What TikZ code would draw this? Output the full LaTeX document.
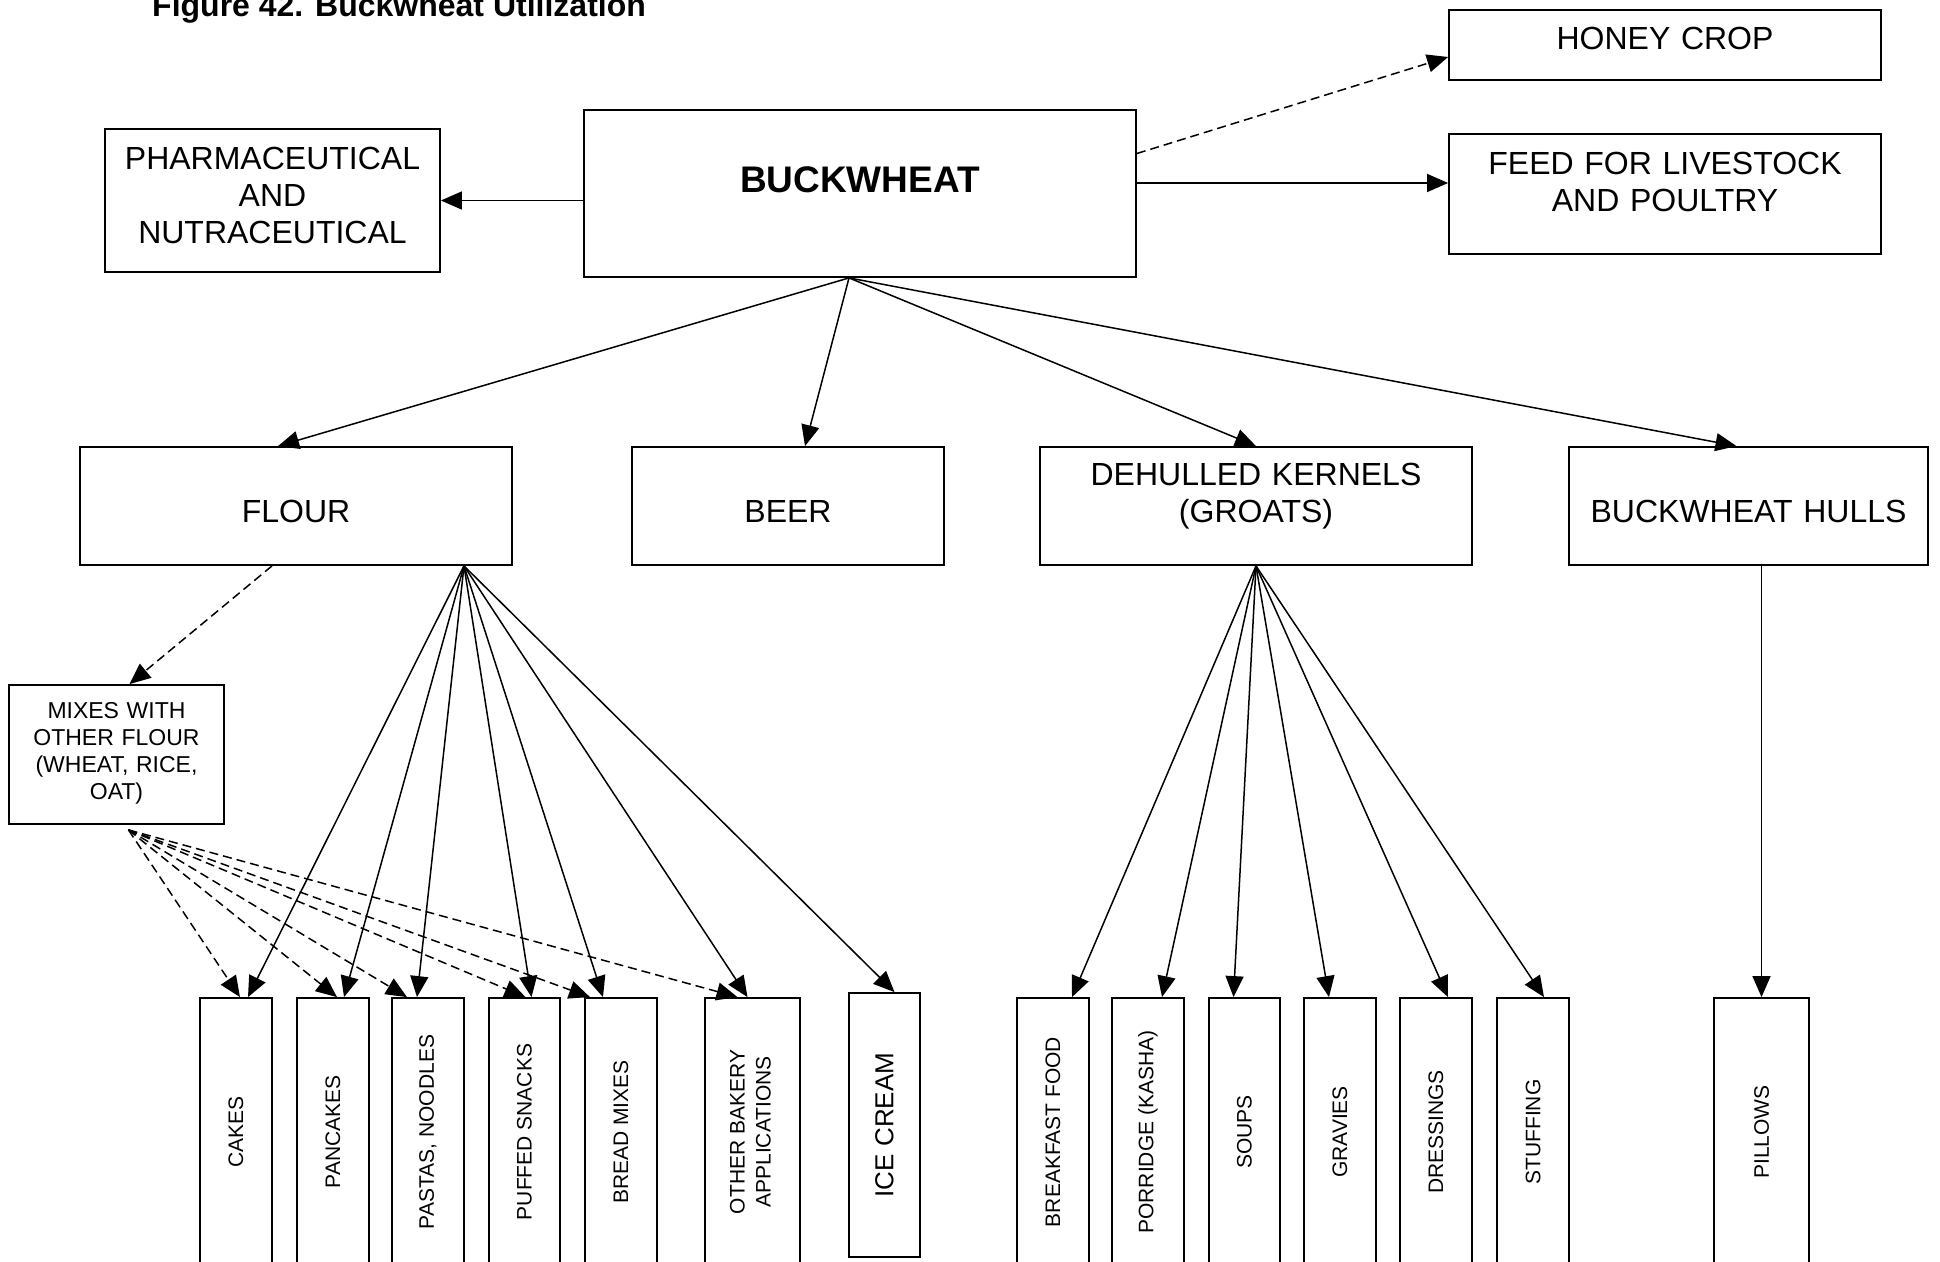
\documentclass[tikz,border=0pt]{standalone}
\usepackage{fontspec}
\usepackage{graphicx}
\setmainfont{Liberation Sans}
\usetikzlibrary{arrows.meta,calc}

\tikzset{
  box/.style={draw, line width=1.8pt, inner sep=0pt, align=center,
    font=\fontsize{32}{37}\selectfont},
  item/.style={draw, line width=1.8pt, inner sep=0pt, minimum height=268pt,
    font=\fontsize{21}{26}\selectfont},
  flow/.style={-{Triangle[length=21pt,width=18pt]}, line width=1.5pt},
  maybe/.style={flow, dash pattern=on 9pt off 5pt},
}

\begin{document}
\begin{tikzpicture}[x=1pt,y=-1pt]
\useasboundingbox (0,0) rectangle (1940,1261);

\node[anchor=base west, inner sep=0pt, font=\bfseries\fontsize{32}{37}\selectfont]
  (title) at (152,16) {Figure 42. Buckwheat Utilization};

% top row
\node[box, text width=552pt, text height=82pt, text depth=85pt,
  font=\bfseries\fontsize{37}{42}\selectfont] (buckwheat) at (860,193.5) {BUCKWHEAT};
\node[box, text width=335pt, text height=40.5pt, text depth=102.5pt]
  (pharma) at (272.5,200.5) {PHARMACEUTICAL\\AND\\NUTRACEUTICAL};
\node[box, text width=432pt, text height=39.5pt, text depth=30.5pt]
  (honey) at (1665,45) {HONEY CROP};
\node[box, text width=432pt, text height=40.5pt, text depth=79.5pt]
  (feed) at (1665,194) {FEED FOR LIVESTOCK\\AND POULTRY};

% middle row
\node[box, text width=432pt, text height=75.5pt, text depth=42.5pt]
  (flour) at (296,506) {FLOUR};
\node[box, text width=312pt, text height=75.5pt, text depth=42.5pt]
  (beer) at (788,506) {BEER};
\node[box, text width=432pt, text height=38.5pt, text depth=79.5pt]
  (dehulled) at (1256,506) {DEHULLED KERNELS\\(GROATS)};
\node[box, text width=359pt, text height=75.5pt, text depth=42.5pt]
  (hulls) at (1748.5,506) {BUCKWHEAT HULLS};
\node[box, text width=215pt, text height=33pt, text depth=106pt,
  font=\fontsize{23}{27}\selectfont]
  (mixes) at (116.5,754.5) {MIXES WITH\\OTHER FLOUR\\(WHEAT, RICE,\\OAT)};

% bottom row, boxes run past the lower edge
\node[item, minimum width=72pt] (cakes) at (236,1132) {\rotatebox{90}{CAKES}};
\node[item, minimum width=72pt] (pancakes) at (333,1132) {\rotatebox{90}{PANCAKES}};
\node[item, minimum width=72pt] (pastas) at (428,1132) {\rotatebox{90}{PASTAS, NOODLES}};
\node[item, minimum width=71pt] (puffed) at (524.5,1132) {\rotatebox{90}{PUFFED SNACKS}};
\node[item, minimum width=72pt] (bread) at (621,1132) {\rotatebox{90}{BREAD MIXES}};
\node[item, minimum width=95pt] (bakery) at (752.5,1132)
  {\rotatebox{90}{\begin{tabular}{@{}c@{}}OTHER BAKERY\\APPLICATIONS\end{tabular}}};
\node[item, minimum width=71pt, minimum height=264pt, font=\fontsize{26}{31}\selectfont]
  (icecream) at (884.5,1125) {\rotatebox{90}{ICE CREAM}};
\node[item, minimum width=72pt] (breakfast) at (1053,1132) {\rotatebox{90}{BREAKFAST FOOD}};
\node[item, minimum width=72pt] (porridge) at (1148,1132) {\rotatebox{90}{PORRIDGE (KASHA)}};
\node[item, minimum width=71pt] (soups) at (1244.5,1132) {\rotatebox{90}{SOUPS}};
\node[item, minimum width=72pt] (gravies) at (1340,1132) {\rotatebox{90}{GRAVIES}};
\node[item, minimum width=72pt] (dressings) at (1436,1132) {\rotatebox{90}{DRESSINGS}};
\node[item, minimum width=72pt] (stuffing) at (1533,1132) {\rotatebox{90}{STUFFING}};
\node[item, minimum width=95pt] (pillows) at (1761.5,1132) {\rotatebox{90}{PILLOWS}};

% fan points
\coordinate (bfan) at ([xshift=-11pt]buckwheat.south);
\coordinate (ffan) at ([xshift=168pt]flour.south);
\coordinate (mfan) at ([xshift=12pt,yshift=-5pt]mixes.south);
\coordinate (feedin) at ([yshift=11pt]feed.west);

% from buckwheat
\draw[flow] (pharma.east -| buckwheat.west) -- (pharma.east);
\draw[maybe] ([yshift=40pt]buckwheat.east) -- ([yshift=-12pt]honey.west);
\draw[flow] (feedin -| buckwheat.east) -- (feedin);
\draw[flow] (bfan) -- ([xshift=-18pt]flour.north);
\draw[flow] (bfan) -- ([xshift=17pt]beer.north);
\draw[flow] (bfan) -- (dehulled.north);
\draw[flow] (bfan) -- ([xshift=-12pt]hulls.north);

% from flour
\draw[maybe] ([xshift=-24pt]flour.south) -- ([xshift=13pt]mixes.north);
\draw[flow] (ffan) -- ([xshift=12pt]cakes.north);
\draw[flow] (ffan) -- ([xshift=11pt]pancakes.north);
\draw[flow] (ffan) -- ([xshift=-11pt]pastas.north);
\draw[flow] (ffan) -- ([xshift=7pt]puffed.north);
\draw[flow] (ffan) -- ([xshift=-18pt]bread.north);
\draw[flow] (ffan) -- ([xshift=-5pt]bakery.north);
\draw[flow] (ffan) -- ([xshift=10pt]icecream.north);

% from mixes
\draw[maybe] (mfan) -- ([xshift=4pt]cakes.north);
\draw[maybe] (mfan) -- ([xshift=4pt]pancakes.north);
\draw[maybe] (mfan) -- ([xshift=-21pt]pastas.north);
\draw[maybe] (mfan) -- ([xshift=1pt]puffed.north);
\draw[maybe] (mfan) -- ([xshift=-31pt]bread.north);
\draw[maybe] (mfan) -- ([xshift=-15pt]bakery.north);

% from groats
\draw[flow] (dehulled.south) -- ([xshift=19pt]breakfast.north);
\draw[flow] (dehulled.south) -- ([xshift=14pt]porridge.north);
\draw[flow] (dehulled.south) -- ([xshift=-11pt]soups.north);
\draw[flow] (dehulled.south) -- ([xshift=-11pt]gravies.north);
\draw[flow] (dehulled.south) -- ([xshift=12pt]dressings.north);
\draw[flow] (dehulled.south) -- ([xshift=11pt]stuffing.north);

% from hulls
\draw[flow] (pillows.north |- hulls.south) -- (pillows.north);
\end{tikzpicture}
\end{document}
